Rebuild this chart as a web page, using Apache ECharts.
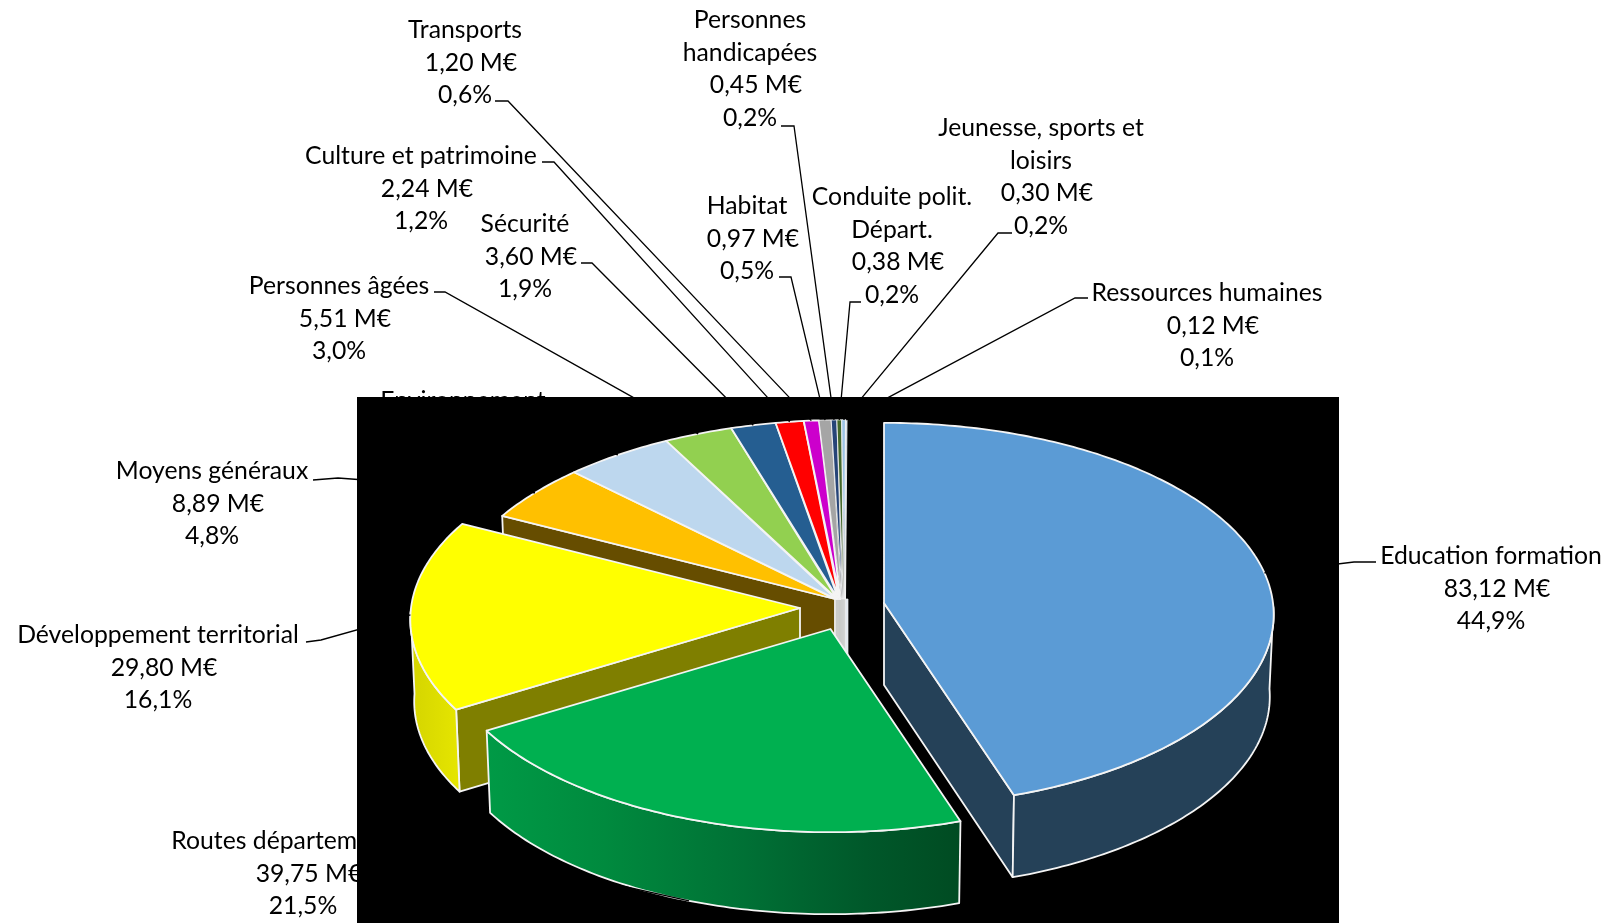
<!DOCTYPE html>
<html>
<head>
<meta charset="utf-8">
<title>Répartition par politique</title>
<style>
html, body { margin: 0; padding: 0; background: #fff; }
#chart { width: 1614px; height: 923px; }
</style>
<script src="https://cdn.jsdelivr.net/npm/echarts@6/dist/echarts.min.js"></script>
</head>
<body>
<div id="chart"></div>
<script>
// donnees (M€)
var categories = ["Education formation", "Routes départementales", "Développement territorial", "Moyens généraux", "Environnement", "Personnes âgées", "Sécurité", "Culture et patrimoine", "Transports", "Habitat", "Personnes\nhandicapées", "Conduite polit.\nDépart.", "Jeunesse, sports et\nloisirs", "Ressources humaines"];
var values = [83.12, 39.75, 29.80, 8.89, 8.80, 5.51, 3.60, 2.24, 1.20, 0.97, 0.45, 0.38, 0.30, 0.12];
var colors = ["#5B9BD5", "#00B050", "#FFFF00", "#FFC000", "#BDD7EE", "#92D050", "#255E91", "#FF0000", "#CC00CC", "#A5A5A5", "#264478", "#43682B", "#9DC3E6", "#C9DDF0"];

// position des etiquettes : centre x, y de la premiere ligne
var labelPos = [[1491, 556], [303, 841], [158, 635], [212, 471], [463, 401], [339, 286], [525, 224], [421, 156], [465, 30], [747, 206], [750, 20], [892, 197], [1041, 128], [1207, 293]];
// depart et coude des traits de rappel
var leaderStart = [[1376, 562, 1354, 562], [440, 848, 452, 848], [306, 642, 321, 640], [313, 480, 338, 478], [470, 420, 480, 420], [434, 292, 445, 292], [581, 263, 592, 263], [542, 162, 554, 162], [495, 101, 508, 101], [779, 277, 791, 277], [781, 126, 794, 126], [861, 302, 850, 302], [1012, 233, 998, 233], [1088, 298, 1075, 298]];

// geometrie du camembert
var RX = 389, RY = 191, PERSP = 0.06, DEPTH = 82, LOWER = 0.99;
var centerPie = { x: 840, y: 600, drift: 7 };
var exploded = { 0: { x: 884, y: 603 }, 1: { x: 830.5, y: 629 }, 2: { x: 800, y: 608 } };
var plate = { x: 357, y: 397, width: 982, height: 526 };
var FONT = "Lato";
var TEXT_SCALE = 0.99;
var STROKE = "#F4F4F4";

var total = values.reduce(function (a, b) { return a + b; }, 0);
var angles = [];
var cumul = 0;
values.forEach(function (v) {
	angles.push([cumul / total * 2 * Math.PI, (cumul + v) / total * 2 * Math.PI]);
	cumul += v;
});

function origin(i) {
	return exploded[i] || centerPie;
}

function rimPoint(theta, o, lower) {
	var u = Math.sin(theta), v = -Math.cos(theta), f = 1 - PERSP * v;
	// les petites parts glissent un peu vers la droite en approchant de midi
	var shift = o.drift ? o.drift * (theta - angles[3][0]) / (2 * Math.PI - angles[3][0]) : 0;
	return [
		o.x + shift + RX * u / f * (lower ? LOWER : 1),
		o.y + RY * v / f + (lower ? DEPTH : 0)
	];
}

function arc(from, to, o, lower) {
	var pts = [], n = Math.max(2, Math.ceil((to - from) / 0.015));
	for (var k = 0; k <= n; k++) {
		pts.push(rimPoint(from + (to - from) * k / n, o, lower));
	}
	return pts;
}

function poly(points, fill, width) {
	return {
		type: "polygon",
		shape: { points: points },
		style: { fill: fill, stroke: STROKE, lineWidth: width || 1.8, lineJoin: "round" }
	};
}

// pointe de chaque petite part : elles s'ecartent un peu a droite
function apexOf(i) {
	if (exploded[i]) return [exploded[i].x, exploded[i].y];
	return [835 + (i - 3) * 1.05, 599];
}

function lowerOf(p) {
	return [p[0], p[1] + DEPTH];
}

function sideFill(i) {
	if (i === 0) return "#254158";
	if (i === 1) {
		return new echarts.graphic.LinearGradient(0, 0, 1, 0, [
			{ offset: 0, color: "#009A46" },
			{ offset: 0.25, color: "#008A3E" },
			{ offset: 0.55, color: "#007035" },
			{ offset: 0.8, color: "#00582A" },
			{ offset: 1, color: "#004B22" }
		]);
	}
	return new echarts.graphic.LinearGradient(0, 0, 1, 0, [
		{ offset: 0, color: "#D4D400" },
		{ offset: 1, color: "#E6E600" }
	]);
}

function drawSlice(i) {
	var o = origin(i), from = angles[i][0], to = angles[i][1];
	var apex = apexOf(i), children = [];
	if (i === 0 || i === 2) {
		// paroi interne visible
		var edge = i === 0 ? to : from;
		children.push(poly([apex, rimPoint(edge, o), rimPoint(edge, o, true), lowerOf(apex)], i === 0 ? "#254158" : "#7F7F00"));
	}
	if (i === 3) {
		children.push(poly([apex, rimPoint(from, o), rimPoint(from, o, true), lowerOf(apex)], "#664D00"));
	}
	if (i > 3) {
		// fine bande verticale au centre
		var next = i < values.length - 1 ? apexOf(i + 1) : [848, 599];
		var wall = i === values.length - 1 ? "#E4EAF0" : "#7A8078";
		children.push(poly([apex, next, lowerOf(next), lowerOf(apex)], wall, 0.7));
	}
	var a = Math.max(from, Math.PI / 2 + 0.02), b = Math.min(to, 1.5 * Math.PI - 0.02);
	if (i < 3 && b > a) {
		children.push(poly(arc(a, b, o).concat(arc(a, b, o, true).reverse()), sideFill(i)));
	}
	children.push(poly([apex].concat(arc(from, to, o)), colors[i], i > 8 ? 0.9 : 1.8));
	return { type: "group", children: children };
}

function drawLabel(i) {
	var pct = (values[i] / total * 100).toFixed(1).replace(".", ",") + "%";
	var money = values[i].toFixed(2).replace(".", ",") + " M€";
	var lines = categories[i].split("\n").concat([money, pct]);
	var pos = labelPos[i];
	return {
		type: "group",
		children: lines.map(function (t, k) {
			return {
				type: "text",
				x: pos[0] + (t === money ? 6 : 0),
				y: pos[1] + k * 32.6,
				scaleX: TEXT_SCALE,
				style: { text: t, x: 0, y: 0, align: "center", verticalAlign: "middle", fontFamily: FONT, fontSize: 25, fill: "#000" }
			};
		})
	};
}

function drawLeader(i) {
	var s = leaderStart[i], o = origin(i);
	var mid = (angles[i][0] + angles[i][1]) / 2;
	// la part du devant est rejointe sur son bord bas
	var end = rimPoint(mid, o, i === 1);
	return {
		type: "polyline",
		shape: { points: [[s[0], s[1]], [s[2], s[3]], end] },
		style: { stroke: "#000", lineWidth: 1.3, fill: null }
	};
}

var indexes = categories.map(function (c, i) { return i; });
var drawOrder = indexes.slice(3).concat([0, 2, 1]);

var myChart = echarts.init(document.getElementById("chart"));
var option = {
	backgroundColor: "#fff",
	animation: false,
	series: [
		{
			type: "custom",
			coordinateSystem: "none",
			z: 1,
			silent: true,
			data: indexes,
			renderItem: function (params, api) { return drawLabel(api.value(0)); }
		},
		{
			type: "custom",
			coordinateSystem: "none",
			z: 2,
			silent: true,
			data: [0],
			renderItem: function () {
				return { type: "rect", shape: plate, style: { fill: "#000" } };
			}
		},
		{
			type: "custom",
			coordinateSystem: "none",
			z: 3,
			silent: true,
			data: drawOrder,
			renderItem: function (params, api) { return drawSlice(api.value(0)); }
		},
		{
			type: "custom",
			coordinateSystem: "none",
			z: 4,
			silent: true,
			data: indexes,
			renderItem: function (params, api) { return drawLeader(api.value(0)); }
		}
	]
};
myChart.setOption(option);
</script>
</body>
</html>
